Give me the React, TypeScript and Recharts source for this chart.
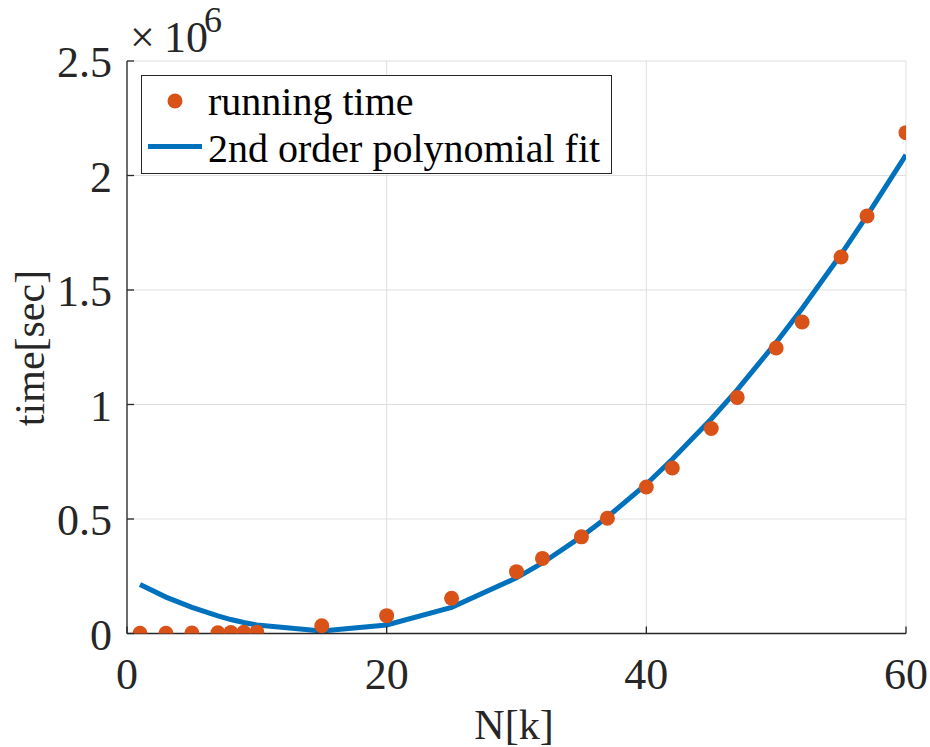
import React from 'react';
import { ComposedChart, Line, Scatter, XAxis, YAxis, CartesianGrid, Legend } from 'recharts';

const nValues = [1, 3, 5, 7, 8, 9, 10, 15, 20, 25, 30, 32, 35, 37, 40, 42, 45, 47, 50, 52, 55, 57, 60];
const runningTime = [1000, 1000, 2000, 3000, 4000, 5000, 6000, 34000, 78000, 154000, 270000, 328000, 422000, 503000, 640000, 723000, 895000, 1031000, 1247000, 1360000, 1644000, 1823000, 2187000];
const polyFit = [214000, 159000, 114000, 77000, 61000, 48000, 37000, 11000, 37000, 114000, 243000, 308000, 423000, 509000, 652000, 761000, 937000, 1064000, 1271000, 1419000, 1656000, 1825000, 2090000];
const xTicks = [0, 20, 40, 60];
const yTicks = [0, 500000, 1000000, 1500000, 2000000, 2500000];

const data = nValues.map((n, i) => ({ n, time: runningTime[i], fit: polyFit[i] }));

const FONT = '"Liberation Serif", "Times New Roman", serif';
const AXIS = '#262626';
const ORANGE = '#D95319';
const BLUE = '#0072BD';

const XTick = (props: any) => {
  const { x, y, payload } = props;
  return (
    <g>
      <line x1={x} y1={y} x2={x} y2={y - 7} stroke={AXIS} strokeWidth={1.3} />
      <text x={x} y={y + 55} textAnchor="middle" fontFamily={FONT} fontSize={44} fill={AXIS}>
        {String(payload.value)}
      </text>
    </g>
  );
};

const YTick = (props: any) => {
  const { x, y, payload } = props;
  const v = payload.value / 1e6;
  return (
    <g>
      <line x1={x} y1={y} x2={x + 7} y2={y} stroke={AXIS} strokeWidth={1.3} />
      <text x={x - 15} y={y + 16} textAnchor="end" fontFamily={FONT} fontSize={44} fill={AXIS}>
        {String(v)}
      </text>
    </g>
  );
};

const YLabel = () => (
  <g>
    <text x={44} y={348} transform="rotate(-90 44 348)" textAnchor="middle" fontFamily={FONT} fontSize={42} fill={AXIS}>
      time[sec]
    </text>
    <text x={130} y={52} fontFamily={FONT} fontSize={44} fill={AXIS}>×</text>
    <text x={164} y={52} fontFamily={FONT} fontSize={44} fill={AXIS}>10</text>
    <text x={204} y={32} fontFamily={FONT} fontSize={36} fill={AXIS}>6</text>
  </g>
);

const XLabel = () => (
  <text x={514} y={739} textAnchor="middle" fontFamily={FONT} fontSize={42} fill={AXIS}>
    N[k]
  </text>
);

const LegendBox = () => (
  <div
    style={{
      width: 471,
      height: 99,
      boxSizing: 'border-box',
      border: `1.3px solid ${AXIS}`,
      background: '#fff',
      position: 'relative',
    }}
  >
    <svg width={469} height={97} style={{ position: 'absolute', left: 0, top: 0 }}>
      <circle cx={33} cy={25} r={7.5} fill={ORANGE} />
      <line x1={6} y1={70.5} x2={60} y2={70.5} stroke={BLUE} strokeWidth={5} />
      <text x={66} y={39} fontFamily={FONT} fontSize={40} fill="#000">running time</text>
      <text x={66} y={85.5} fontFamily={FONT} fontSize={40} fill="#000">2nd order polynomial fit</text>
    </svg>
  </div>
);

const Dot = (props: any) => {
  const { cx, cy } = props;
  if (cx == null || cy == null) return null;
  return <circle cx={cx} cy={cy} r={7.5} fill={ORANGE} />;
};

export default function App() {
  return (
    <div style={{ position: 'absolute', left: 0, top: 0, width: 930, height: 747, background: '#fff' }}>
      <ComposedChart
        width={930}
        height={747}
        data={data}
        margin={{ top: 61, right: 24, bottom: 53.5, left: 47 }}
      >
        <CartesianGrid stroke="#dfdfdf" strokeWidth={1} horizontalValues={yTicks} verticalValues={xTicks} />
        <XAxis
          dataKey="n"
          type="number"
          domain={[0, 60]}
          ticks={xTicks}
          height={60}
          tickLine={false}
          tickSize={0}
          tickMargin={0}
          tick={<XTick />}
          axisLine={{ stroke: AXIS, strokeWidth: 1.3 }}
          interval={0}
          label={<XLabel />}
          allowDataOverflow
        />
        <YAxis
          type="number"
          domain={[0, 2500000]}
          ticks={yTicks}
          width={80}
          tickLine={false}
          tickSize={0}
          tickMargin={0}
          tick={<YTick />}
          axisLine={{ stroke: AXIS, strokeWidth: 1.3 }}
          interval={0}
          label={<YLabel />}
          allowDataOverflow
        />
        <Legend
          layout="vertical"
          align="center"
          verticalAlign="middle"
          wrapperStyle={{ left: 141, top: 75, width: 471, height: 99 }}
          content={() => <LegendBox />}
        />
        <Scatter dataKey="time" fill={ORANGE} shape={<Dot />} isAnimationActive={false} />
        <Line
          dataKey="fit"
          type="linear"
          stroke={BLUE}
          strokeWidth={5}
          dot={false}
          activeDot={false}
          isAnimationActive={false}
        />
      </ComposedChart>
    </div>
  );
}
